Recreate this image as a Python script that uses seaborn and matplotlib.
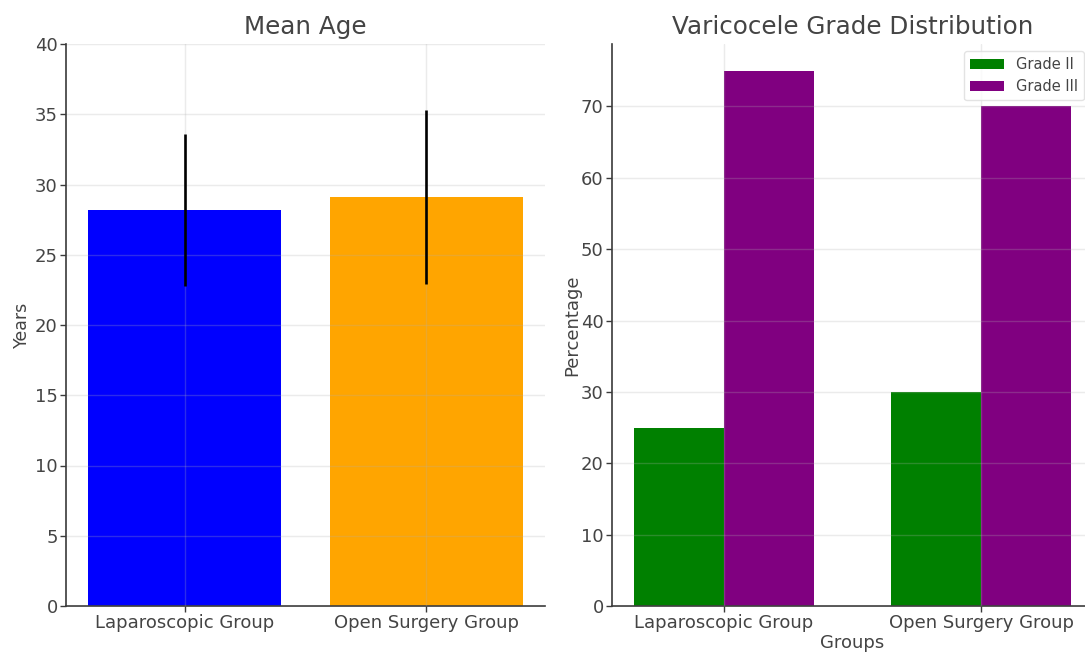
import matplotlib
matplotlib.use("Agg")
import matplotlib.pyplot as plt
import seaborn as sns
import pandas as pd

# Study groups
groups = ["Laparoscopic Group", "Open Surgery Group"]

# Mean age and standard deviation per group (years)
mean_age = [28.2, 29.1]
sd_age = [5.4, 6.2]
age_colors = ["blue", "orange"]

# Varicocele grade distribution (percent of patients)
grades = ["Grade II", "Grade III"]
grade_ii_pct = [25, 30]
grade_iii_pct = [75, 70]
grade_colors = ["green", "purple"]

sns.set_theme(style="whitegrid")
plt.rcParams["font.family"] = ["DejaVu Sans"]

text_color = "#444444"
spine_color = "#3a3a3a"

fig = plt.figure(figsize=(10.85, 6.53), dpi=100)
W, H = 1085, 653
ax1 = fig.add_axes([66 / W, 1 - 606 / H, 479 / W, 562 / H])
ax2 = fig.add_axes([612 / W, 1 - 606 / H, 481 / W, 562 / H])

# Left panel: mean age with standard deviation
age_df = pd.DataFrame({"Group": groups, "Age": mean_age})
sns.barplot(data=age_df, x="Group", y="Age", hue="Group", palette=age_colors,
            saturation=1, width=0.8, errorbar=None, legend=False, linewidth=0,
            ax=ax1)
ax1.errorbar(x=range(len(groups)), y=mean_age, yerr=sd_age, fmt="none",
             ecolor="black", elinewidth=1.9, capsize=0, zorder=3)
ax1.set_xlim(-0.49, 1.49)
ax1.set_ylim(0, 40)
ax1.set_title("Mean Age", fontsize=17.7, color=text_color, pad=7)
ax1.set_xlabel("")
ax1.set_ylabel("Years", fontsize=12.5, color=text_color, labelpad=3)

# Right panel: grade distribution by group
grade_df = pd.DataFrame({
    "Group": groups * 2,
    "Grade": [grades[0]] * 2 + [grades[1]] * 2,
    "Percentage": grade_ii_pct + grade_iii_pct,
})
sns.barplot(data=grade_df, x="Group", y="Percentage", hue="Grade",
            palette=grade_colors, saturation=1, width=0.7, errorbar=None,
            linewidth=0, ax=ax2)
ax2.set_xlim(-0.435, 1.435)
ax2.set_ylim(0, 78.75)
ax2.set_yticks([0, 10, 20, 30, 40, 50, 60, 70])
ax2.set_title("Varicocele Grade Distribution", fontsize=17.7, color=text_color, pad=7)
ax2.set_xlabel("Groups", fontsize=13, color=text_color, labelpad=1)
ax2.set_ylabel("Percentage", fontsize=13, color=text_color, labelpad=0)
leg = ax2.legend(loc="upper right", bbox_to_anchor=(0.982, 0.988), borderaxespad=0,
                 fontsize=10.5, frameon=True, handlelength=2.3, borderpad=0.45,
                 labelspacing=0.45)
for t in leg.get_texts():
    t.set_color(text_color)
leg.get_frame().set_edgecolor("#dddddd")

for ax in (ax1, ax2):
    ax.set_axisbelow(False)
    ax.grid(True, color="#b0b0b0", alpha=0.25, linewidth=1.0)
    for side in ("top", "right"):
        ax.spines[side].set_visible(False)
    for side in ("left", "bottom"):
        ax.spines[side].set_visible(True)
        ax.spines[side].set_color(spine_color)
        ax.spines[side].set_linewidth(1.2)
    ax.tick_params(axis="both", labelsize=13, colors=text_color, length=4,
                   width=1, direction="out", left=True, bottom=True, pad=2)
    ax.tick_params(axis="both", color=spine_color)

fig.savefig("out.png", dpi=100)
